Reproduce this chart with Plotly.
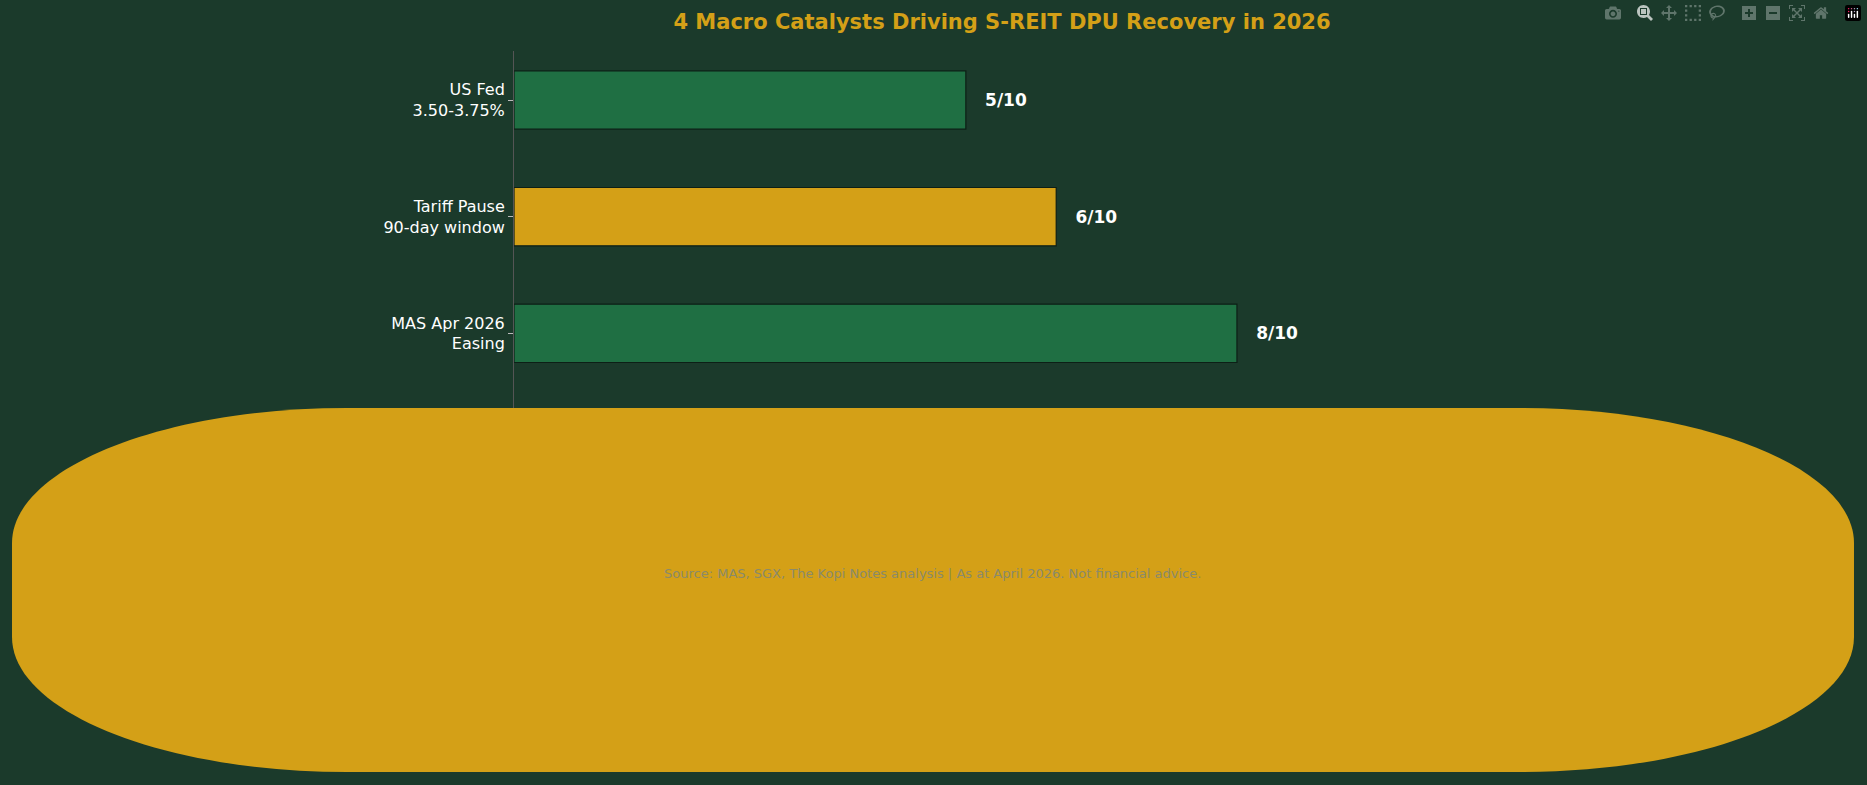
import plotly.graph_objects as go

categories = ["US Fed<br>3.50-3.75%", "Tariff Pause<br>90-day window", "MAS Apr 2026<br>Easing"]
scores = [5, 6, 8]
bar_colors = ["#1F6F43", "#D4A017", "#1F6F43"]
score_labels = ["5/10", "6/10", "8/10"]

W, H = 1867, 785
L, R, T, B = 514, 377, 51, 286
pw, ph = W - L - R, H - T - B

fig = go.Figure(go.Bar(
    y=categories, x=scores, orientation="h", width=0.5,
    marker=dict(color=bar_colors, line=dict(color="#0d1f16", width=1.2)),
    text=["   <b>" + s + "</b>" for s in score_labels], textposition="outside", cliponaxis=False,
    textfont=dict(color="white", size=17, family="DejaVu Sans"),
    hoverinfo="skip",
))

def px2paper(x, y):
    return (x - L) / pw, (H - B - y) / ph

x0, x1, y0, y1 = 12, 1854, 408, 772
rx, ry = 335, 135
k = 0.5523
def P(x, y):
    a, b = px2paper(x, y)
    return f"{a:.5f},{b:.5f}"
path = (f"M {P(x0+rx, y0)} L {P(x1-rx, y0)} "
        f"C {P(x1-rx+k*rx, y0)} {P(x1, y0+ry-k*ry)} {P(x1, y0+ry)} "
        f"L {P(x1, y1-ry)} "
        f"C {P(x1, y1-ry+k*ry)} {P(x1-rx+k*rx, y1)} {P(x1-rx, y1)} "
        f"L {P(x0+rx, y1)} "
        f"C {P(x0+rx-k*rx, y1)} {P(x0, y1-ry+k*ry)} {P(x0, y1-ry)} "
        f"L {P(x0, y0+ry)} "
        f"C {P(x0, y0+ry-k*ry)} {P(x0+rx-k*rx, y0)} {P(x0+rx, y0)} Z")
fig.add_shape(type="path", path=path, xref="paper", yref="paper",
              fillcolor="#D4A017", line=dict(width=0), layer="above")

sx, sy = px2paper(932, 583)
fig.add_annotation(text="Source: MAS, SGX, The Kopi Notes analysis | As at April 2026. Not financial advice.",
                   x=sx, y=sy, xref="paper", yref="paper", showarrow=False,
                   font=dict(color="#8a8a6a", size=13, family="DejaVu Sans"))

fig.update_layout(
    width=W, height=H,
    margin=dict(l=L, r=R, t=T, b=B),
    paper_bgcolor="#1B3A2B", plot_bgcolor="#1B3A2B",
    title=dict(text="<b>4 Macro Catalysts Driving S-REIT DPU Recovery in 2026</b>",
               x=1002 / W, xanchor="center", y=1 - 22 / H, yanchor="middle",
               font=dict(color="#D4A017", size=21, family="DejaVu Sans")),
    xaxis=dict(range=[0, 10.8], visible=False, fixedrange=True),
    yaxis=dict(autorange=False, range=[3.42, -0.42], showgrid=False, zeroline=False,
               showline=True, linecolor="#555555", linewidth=1,
               ticks="outside", ticklen=5, tickcolor="#bbbbbb",
               tickfont=dict(color="white", size=16, family="DejaVu Sans")),
    showlegend=False, bargap=0.5,
)

fig.write_html("out.html",
               post_script="document.body.style.margin='0';document.body.style.background='#1B3A2B';document.body.style.overflow='hidden';")
